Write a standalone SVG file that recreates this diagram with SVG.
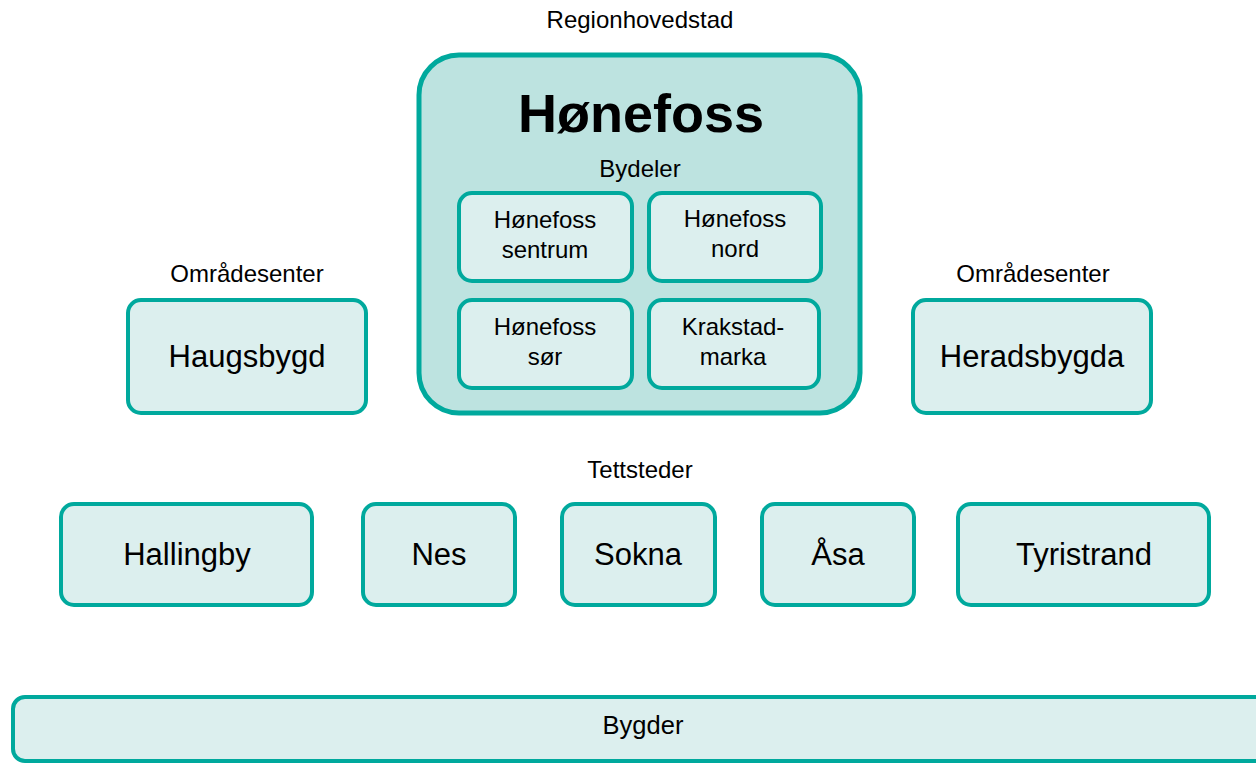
<svg xmlns="http://www.w3.org/2000/svg" width="1256" height="765" viewBox="0 0 1256 765">
<style>
text{font-family:"Liberation Sans",Arial,sans-serif;fill:#000;text-anchor:middle}
.box{fill:#DCEFEE;stroke:#00A99D;stroke-width:4}
.big{fill:#BDE3E0;stroke:#00A99D;stroke-width:5}
.lbl{font-size:24px}
.sub{font-size:24px}
.nm{font-size:31px}
.bg{font-size:25.5px}
</style>
<rect width="1256" height="765" fill="#fff"/>
<text class="lbl" x="640" y="28">Regionhovedstad</text>
<g id="honefoss">
<rect class="big" x="419" y="55" width="441" height="358" rx="40"/>
<text x="641" y="132" font-size="54" font-weight="bold">Hønefoss</text>
<text class="lbl" x="640" y="177">Bydeler</text>
</g>
<g id="sentrum"><rect class="box" x="459" y="193" width="173" height="88" rx="13"/><text class="sub" x="545" y="228">Hønefoss</text><text class="sub" x="545" y="258">sentrum</text></g>
<g id="nord"><rect class="box" x="649" y="193" width="172" height="88" rx="13"/><text class="sub" x="735" y="227">Hønefoss</text><text class="sub" x="735" y="257">nord</text></g>
<g id="sor"><rect class="box" x="459" y="300" width="173" height="88" rx="13"/><text class="sub" x="545" y="335">Hønefoss</text><text class="sub" x="545" y="365">sør</text></g>
<g id="krakstad"><rect class="box" x="649" y="300" width="170" height="88" rx="13"/><text class="sub" x="733" y="335">Krakstad-</text><text class="sub" x="733" y="365">marka</text></g>
<text class="lbl" x="247" y="282">Områdesenter</text>
<g id="haugsbygd"><rect class="box" x="128" y="300" width="238" height="113" rx="13"/><text class="nm" x="247" y="367">Haugsbygd</text></g>
<text class="lbl" x="1033" y="282">Områdesenter</text>
<g id="heradsbygda"><rect class="box" x="913" y="300" width="238" height="113" rx="13"/><text class="nm" x="1032" y="367">Heradsbygda</text></g>
<text class="lbl" x="640" y="478">Tettsteder</text>
<g id="hallingby"><rect class="box" x="61" y="504" width="251" height="101" rx="13"/><text class="nm" x="187" y="565">Hallingby</text></g>
<g id="nes"><rect class="box" x="363" y="504" width="152" height="101" rx="13"/><text class="nm" x="439" y="565">Nes</text></g>
<g id="sokna"><rect class="box" x="562" y="504" width="153" height="101" rx="13"/><text class="nm" x="638" y="565">Sokna</text></g>
<g id="asa"><rect class="box" x="762" y="504" width="152" height="101" rx="13"/><text class="nm" x="838" y="565">Åsa</text></g>
<g id="tyristrand"><rect class="box" x="958" y="504" width="251" height="101" rx="13"/><text class="nm" x="1084" y="565">Tyristrand</text></g>
<g id="bygder"><rect class="box" x="13" y="697" width="1260" height="64" rx="12"/><text class="bg" x="643" y="734">Bygder</text></g>
<g id="connectors"></g>
</svg>
